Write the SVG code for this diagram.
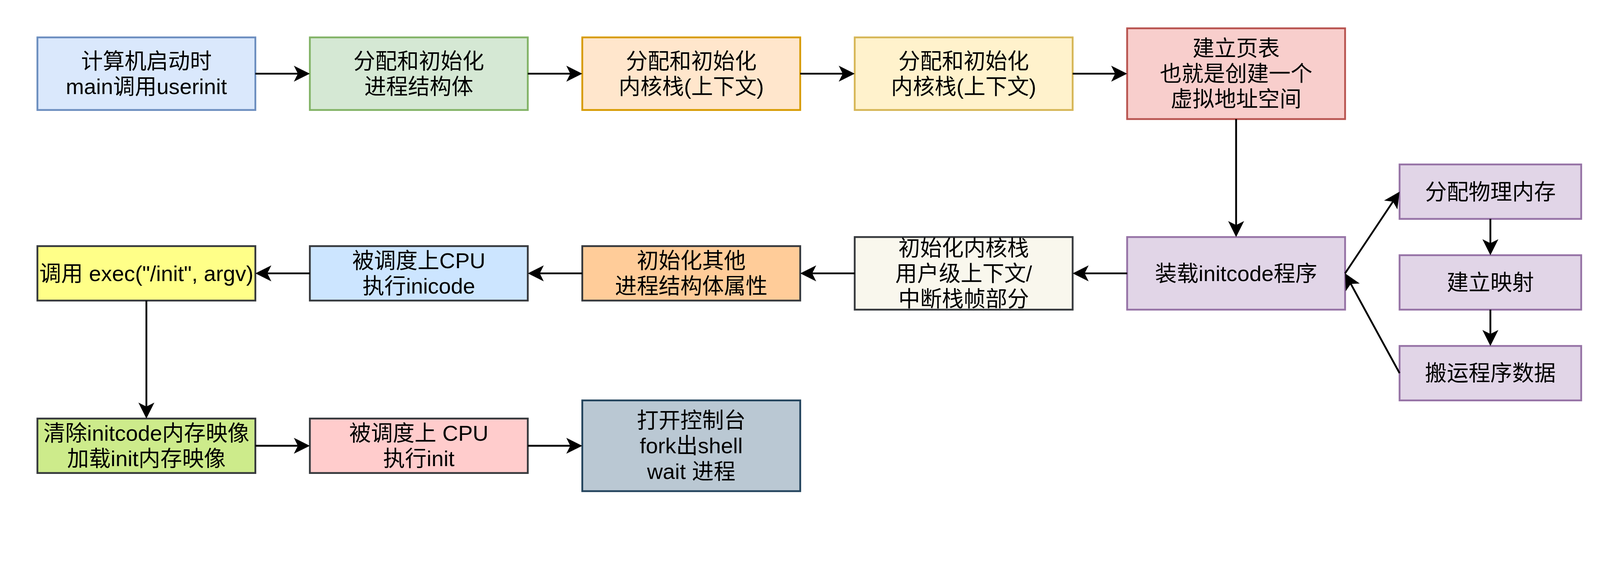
<svg xmlns="http://www.w3.org/2000/svg" width="4405" height="1455" viewBox="0 0 4405 1455">
<style>
.n rect{stroke-width:5}
.n text{font-family:"Liberation Sans","Noto Sans CJK SC",sans-serif;font-size:60px;text-anchor:middle;fill:#000}
.c path{fill:none;stroke:#000;stroke-width:5;marker-end:url(#arr)}
</style>
<defs>
<marker id="arr" markerUnits="userSpaceOnUse" markerWidth="50" markerHeight="50" viewBox="-15 -25 50 50" refX="0" refY="0" orient="auto">
<path d="M33,0 L-11,-22 L0,0 L-11,22 Z" fill="#000"/>
</marker>
</defs>
<rect width="4405" height="1455" fill="#fff"/>
<g id="diagram" transform="scale(0.9299)">
<g id="n1" class="n"><rect x="103" y="103" width="600" height="200" fill="#dae8fc" stroke="#6c8ebf"/><text x="403" y="189">计算机启动时</text><text x="403" y="259">main调用userinit</text></g>
<g id="n2" class="n"><rect x="853" y="103" width="600" height="200" fill="#d5e8d4" stroke="#82b366"/><text x="1153" y="189">分配和初始化</text><text x="1153" y="259">进程结构体</text></g>
<g id="n3" class="n"><rect x="1603" y="103" width="600" height="200" fill="#ffe6cc" stroke="#d79b00"/><text x="1903" y="189">分配和初始化</text><text x="1903" y="259">内核栈(上下文)</text></g>
<g id="n4" class="n"><rect x="2353" y="103" width="600" height="200" fill="#fff2cc" stroke="#d6b656"/><text x="2653" y="189">分配和初始化</text><text x="2653" y="259">内核栈(上下文)</text></g>
<g id="n5" class="n"><rect x="3103" y="78" width="600" height="250" fill="#f8cecc" stroke="#b85450"/><text x="3403" y="154">建立页表</text><text x="3403" y="224">也就是创建一个</text><text x="3403" y="294">虚拟地址空间</text></g>
<g id="n6" class="n"><rect x="3103" y="653" width="600" height="200" fill="#e1d5e7" stroke="#9673a6"/><text x="3403" y="774">装载initcode程序</text></g>
<g id="n7" class="n"><rect x="3853" y="453" width="500" height="150" fill="#e1d5e7" stroke="#9673a6"/><text x="4103" y="549">分配物理内存</text></g>
<g id="n8" class="n"><rect x="3853" y="703" width="500" height="150" fill="#e1d5e7" stroke="#9673a6"/><text x="4103" y="799">建立映射</text></g>
<g id="n9" class="n"><rect x="3853" y="953" width="500" height="150" fill="#e1d5e7" stroke="#9673a6"/><text x="4103" y="1049">搬运程序数据</text></g>
<g id="n10" class="n"><rect x="2353" y="653" width="600" height="200" fill="#f9f7ed" stroke="#36393d"/><text x="2653" y="704">初始化内核栈</text><text x="2653" y="774">用户级上下文/</text><text x="2653" y="844">中断栈帧部分</text></g>
<g id="n11" class="n"><rect x="1603" y="678" width="600" height="150" fill="#ffcc99" stroke="#36393d"/><text x="1903" y="739">初始化其他</text><text x="1903" y="809">进程结构体属性</text></g>
<g id="n12" class="n"><rect x="853" y="678" width="600" height="150" fill="#cce5ff" stroke="#36393d"/><text x="1153" y="739">被调度上CPU</text><text x="1153" y="809">执行inicode</text></g>
<g id="n13" class="n"><rect x="103" y="678" width="600" height="150" fill="#ffff88" stroke="#36393d"/><text x="403" y="774">调用 exec("/init", argv)</text></g>
<g id="n14" class="n"><rect x="103" y="1153" width="600" height="150" fill="#cdeb8b" stroke="#36393d"/><text x="403" y="1214">清除initcode内存映像</text><text x="403" y="1284">加载init内存映像</text></g>
<g id="n15" class="n"><rect x="853" y="1153" width="600" height="150" fill="#ffcccc" stroke="#36393d"/><text x="1153" y="1214">被调度上 CPU</text><text x="1153" y="1284">执行init</text></g>
<g id="n16" class="n"><rect x="1603" y="1103" width="600" height="250" fill="#bac8d3" stroke="#23445d"/><text x="1903" y="1179">打开控制台</text><text x="1903" y="1249">fork出shell</text><text x="1903" y="1319">wait 进程</text></g>
<g id="connectors" class="c">
<path d="M703,203 L820,203"/>
<path d="M1453,203 L1570,203"/>
<path d="M2203,203 L2320,203"/>
<path d="M2953,203 L3070,203"/>
<path d="M3403,328 L3403,620"/>
<path d="M3703,753 L3834.7,555.5"/>
<path d="M4103,603 L4103,670"/>
<path d="M4103,853 L4103,920"/>
<path d="M3853,1028 L3718.8,782"/>
<path d="M3103,753 L2986,753"/>
<path d="M2353,753 L2236,753"/>
<path d="M1603,753 L1486,753"/>
<path d="M853,753 L736,753"/>
<path d="M403,828 L403,1120"/>
<path d="M703,1228 L820,1228"/>
<path d="M1453,1228 L1570,1228"/>
</g>
</g>
</svg>
